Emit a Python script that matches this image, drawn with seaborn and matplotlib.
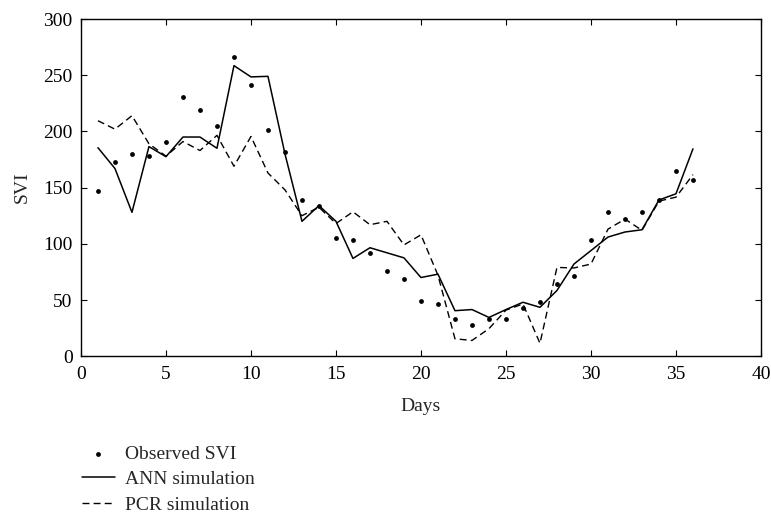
import numpy as np
import pandas as pd
import matplotlib
matplotlib.use("Agg")
import matplotlib.pyplot as plt
import seaborn as sns

# Values
days = list(range(1, 37))
observed = [147, 173, 180, 178.5, 190.5, 231, 219, 205, 266.5, 241.5, 201, 181.5,
            139, 134, 105, 103, 91.5, 76, 69, 49, 46.5, 33.5, 28, 33.5,
            33.5, 42.5, 48.5, 64.5, 71, 103.5, 128.5, 122, 128.5, 139, 164.5, 156.5]
ann = [185.5, 167, 128, 186.5, 177.5, 195, 195, 185, 258.5, 248.5, 249, 180,
       120, 134, 120, 87, 96.5, 92, 87.5, 70, 73, 40.5, 41.5, 34.5,
       41.5, 48, 43.5, 58.5, 82, 94, 106, 110.5, 112.5, 139, 144.5, 184.5]
pcr = [209.5, 202, 214, 189, 178, 191, 183, 196.5, 169, 195.5, 163, 148,
       125, 132.5, 118, 128.5, 117, 120, 99, 108, 72, 15.5, 14, 24.5,
       41, 46.5, 11.5, 79, 78.5, 82, 113, 122, 112, 138, 141.5, 161.5]

df = pd.DataFrame({"day": days, "observed": observed, "ann": ann, "pcr": pcr})

sns.set_theme(style="ticks")
plt.rcParams["font.family"] = ["Liberation Serif", "DejaVu Serif"]
fs = 14

fig = plt.figure(figsize=(7.71, 5.14), dpi=100)
ax = fig.add_axes([0.105, 0.307, 0.882, 0.656])

sns.scatterplot(data=df, x="day", y="observed", ax=ax, color="black", s=12,
                edgecolor="black", linewidth=0, label="Observed SVI", zorder=3)
sns.lineplot(data=df, x="day", y="ann", ax=ax, color="black", linewidth=1.1,
             label="ANN simulation")
sns.lineplot(data=df, x="day", y="pcr", ax=ax, color="black", linewidth=1.0,
             linestyle=(0, (5, 3)), label="PCR simulation")

ax.set_xlim(0, 40)
ax.set_ylim(0, 300)
ax.set_xticks(range(0, 41, 5))
ax.set_yticks(range(0, 301, 50))
ax.set_xlabel("Days", fontsize=fs, labelpad=11)
ax.set_ylabel("SVI", fontsize=fs, labelpad=9)
ax.tick_params(direction="in", top=True, right=True, labelsize=fs, length=4,
               width=0.8, colors="black")
ax.tick_params(axis="x", pad=7)
ax.tick_params(axis="y", pad=6)
for sp in ax.spines.values():
    sp.set_visible(True)
    sp.set_linewidth(1.0)
    sp.set_color("black")

handles, labels = ax.get_legend_handles_labels()
ax.get_legend().remove()
fig.legend(handles, labels, loc="upper left", bbox_to_anchor=(0.106, 0.134),
           frameon=False, fontsize=fs, handlelength=1.7, handletextpad=0.5,
           labelspacing=0.4, borderaxespad=0, borderpad=0)

fig.savefig("out.png", dpi=100)
